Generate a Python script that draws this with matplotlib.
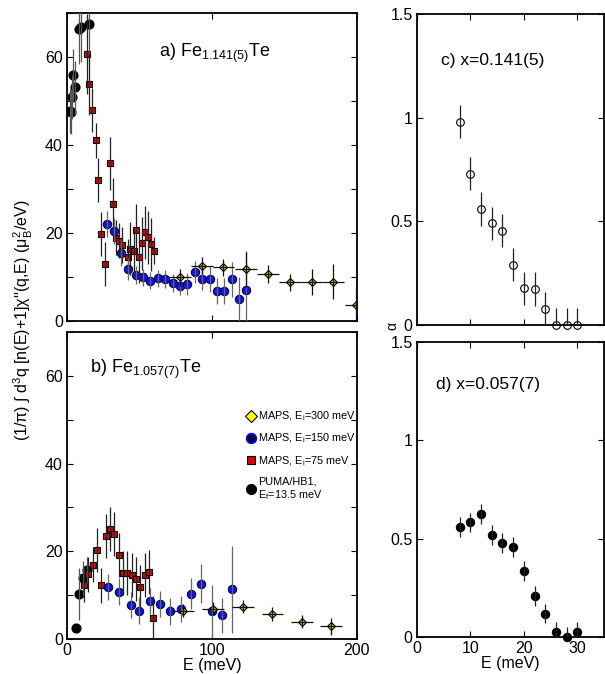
import matplotlib
matplotlib.use("Agg")
import matplotlib.pyplot as plt
from matplotlib.lines import Line2D
from matplotlib.ticker import MultipleLocator
import numpy as np

plt.rcParams['font.family'] = ['Liberation Sans', 'DejaVu Sans']
plt.rcParams['mathtext.fontset'] = 'custom'
plt.rcParams['mathtext.rm'] = 'Liberation Sans'
plt.rcParams['mathtext.it'] = 'Liberation Sans:italic'

# ============================================< DATA >=================================================================

# panel a) Fe1.141(5)Te
a_puma_E = [2.0, 3.0, 3.3, 4.4, 5.6, 8.5, 10.0, 15.5]
a_puma_y = [47.8, 47.5, 50.8, 55.9, 53.1, 66.3, 66.8, 67.5]
a_puma_err = [5, 5, 5, 6, 6, 8, 8, 9]

a_75_E = [13.7, 15.5, 17.6, 19.7, 21.7, 23.8, 25.9, 29.9, 32.0, 34.0, 36.0, 37.7,
          41.9, 43.8, 46.0, 47.9, 49.8, 51.9, 53.9, 56.0, 58.1, 60.2]
a_75_y = [60.7, 53.8, 47.9, 41.1, 32.1, 19.7, 13.0, 35.8, 26.6, 18.9, 18.3, 17.3,
          14.6, 16.4, 16.0, 20.6, 14.6, 17.7, 20.2, 19.0, 17.4, 16.0]
a_75_err = [9, 7, 5, 4, 5, 5, 5, 6, 6, 4, 4, 4, 4, 6, 5, 6, 6, 6, 6, 6, 6, 3]

a_150_E = [27.5, 32.2, 37.3, 42.4, 47.4, 52.5, 57.6, 62.7, 67.8, 72.9,
           78.0, 83.1, 88.2, 93.3, 98.4, 103.5, 108.5, 113.6, 118.8, 123.8]
a_150_y = [22.0, 20.5, 15.5, 11.9, 10.5, 9.9, 9.2, 9.7, 9.6, 8.7,
           8.0, 8.4, 11.1, 9.5, 9.6, 6.8, 6.8, 9.5, 5.0, 7.0]
a_150_err = [3, 3, 3, 2.5, 2, 2, 2, 2, 2, 2,
             2, 2.5, 2.5, 2.5, 3, 3, 3, 4, 5, 9]

a_300_E = [78.0, 93.0, 108.0, 123.6, 138.7, 154.0, 168.8, 183.8, 199.3]
a_300_y = [9.9, 12.6, 12.2, 11.8, 10.7, 8.8, 8.9, 8.9, 3.6]
a_300_err = [2, 2, 2, 4, 2, 2, 3, 4, 4]

# panel b) Fe1.057(7)Te
b_puma_E = [6.2, 8.5, 11.3, 13.6]
b_puma_y = [2.6, 10.3, 13.9, 15.7]
b_puma_err = [0, 6, 4, 3]

b_75_E = [11.7, 14.7, 17.7, 20.7, 23.7, 26.7, 29.7, 32.6, 35.6, 38.8, 41.6,
          44.6, 47.6, 50.6, 53.6, 56.6, 59.5]
b_75_y = [12.4, 14.8, 16.9, 20.2, 12.3, 23.4, 25.0, 24.0, 19.2, 15.0, 15.0,
          14.5, 13.6, 11.9, 14.5, 15.3, 4.8]
b_75_err = [4, 4, 4, 5, 4, 5, 5, 5, 5, 5, 5, 5, 5, 5, 5, 5, 5]

b_150_E = [28.5, 35.6, 44.0, 49.9, 57.2, 64.1, 71.3, 78.4, 85.5, 92.6, 99.8, 107.0, 114.0]
b_150_y = [11.9, 10.8, 7.7, 6.5, 8.6, 8.0, 6.3, 6.9, 10.3, 12.6, 6.3, 5.4, 11.3]
b_150_err = [3, 3, 3, 3, 3, 3, 3, 3, 3.5, 4.5, 6, 4, 10]

b_300_E = [80.2, 101.0, 121.6, 141.8, 162.0, 182.0]
b_300_y = [6.5, 6.9, 7.4, 5.7, 3.9, 2.9]
b_300_err = [1.5, 1.5, 1.5, 1.5, 1.5, 2]

# panels c) and d): alpha vs E
alpha_E = [8, 10, 12, 14, 16, 18, 20, 22, 24, 26, 28, 30]
c_alpha = [0.98, 0.73, 0.56, 0.49, 0.455, 0.29, 0.177, 0.174, 0.077, 0.0, 0.0, 0.0]
c_err = [0.08, 0.08, 0.08, 0.08, 0.08, 0.08, 0.08, 0.08, 0.08, 0.08, 0.08, 0.08]
d_alpha = [0.56, 0.583, 0.625, 0.52, 0.478, 0.458, 0.334, 0.207, 0.119, 0.024, 0.0, 0.025]
d_err = [0.05, 0.05, 0.05, 0.05, 0.05, 0.05, 0.05, 0.05, 0.05, 0.05, 0.05, 0.05]

XERR_300 = 7.5
TICK_FS = 11.5

# ============================================< PLOTTING >=============================================================

fig = plt.figure(figsize=(6.05, 6.74), dpi=100)
ax_a = fig.add_axes([0.1107, 0.5237, 0.479, 0.457])
ax_b = fig.add_axes([0.1107, 0.0519, 0.479, 0.4555])
ax_c = fig.add_axes([0.689, 0.5178, 0.3095, 0.4612])
ax_d = fig.add_axes([0.689, 0.0549, 0.3095, 0.4377])


def series(ax, E, y, err, marker, mfc, mec, ms, ecol, xerr=None, clip=True):
    ax.plot(E, y, linestyle='none', marker=marker, mfc=mfc, mec=mec, ms=ms, mew=0.8, zorder=2,
            clip_on=clip)
    ax.errorbar(E, y, yerr=err, xerr=xerr, fmt='none', ecolor=ecol, elinewidth=0.9, capsize=0, zorder=3)


def left_panel(ax, puma, r75, b150, y300):
    series(ax, *puma, 'o', 'black', 'black', 6.5, '#555555')
    series(ax, *r75, 's', '#e00000', 'black', 4.5, '#222222')
    series(ax, *b150, 'o', '#1414e0', '#000050', 6.0, '#666666')
    series(ax, *y300, 'D', '#d8d000', 'black', 4.5, '#111111', xerr=XERR_300)
    ax.set_xlim(0, 200)
    ax.set_ylim(0, 70)
    ax.set_xticks([0, 100, 200])
    ax.set_yticks([0, 20, 40, 60])
    ax.yaxis.set_minor_locator(MultipleLocator(10))


left_panel(ax_a, (a_puma_E, a_puma_y, a_puma_err), (a_75_E, a_75_y, a_75_err),
           (a_150_E, a_150_y, a_150_err), (a_300_E, a_300_y, a_300_err))
left_panel(ax_b, (b_puma_E, b_puma_y, b_puma_err), (b_75_E, b_75_y, b_75_err),
           (b_150_E, b_150_y, b_150_err), (b_300_E, b_300_y, b_300_err))

series(ax_c, alpha_E, c_alpha, c_err, 'o', 'white', 'black', 5.5, '#222222', clip=False)
series(ax_d, alpha_E, d_alpha, d_err, 'o', 'black', 'black', 6.0, '#222222', clip=False)
for ax in (ax_c, ax_d):
    ax.set_xlim(0, 35)
    ax.set_ylim(0, 1.5)
    ax.set_xticks([0, 10, 20, 30])
    ax.set_yticks([0, 0.5, 1, 1.5])
    ax.set_yticklabels(['0', '0.5', '1', '1.5'])

for ax in (ax_a, ax_b, ax_c, ax_d):
    ax.tick_params(which='both', direction='in', top=True, right=True, labelsize=TICK_FS,
                   length=4, width=0.8, pad=3)
    ax.tick_params(which='minor', length=4)
    for s in ax.spines.values():
        s.set_linewidth(1.3)
ax_a.tick_params(labelbottom=False)
ax_c.tick_params(labelbottom=False)

ax_b.set_xlabel('E (meV)', fontsize=11.5, labelpad=0)
ax_d.set_xlabel('E (meV)', fontsize=11.5, labelpad=0)

ax_a.text(0.317, 0.857, r'a) Fe$_{\mathrm{1.141(5)}}$Te', transform=ax_a.transAxes, fontsize=13)
ax_b.text(0.079, 0.866, r'b) Fe$_{\mathrm{1.057(7)}}$Te', transform=ax_b.transAxes, fontsize=13)
ax_c.text(0.131, 0.836, 'c) x=0.141(5)', transform=ax_c.transAxes, fontsize=12.5)
ax_d.text(0.10, 0.84, 'd) x=0.057(7)', transform=ax_d.transAxes, fontsize=12.5)

fig.text(0.039, 0.525, r"(1/π) ∫ d$^{3}$q [n(E)+1]χ''(q,E) (μ$_{\mathrm{B}}^{2}$/eV)",
         rotation=90, ha='center', va='center', fontsize=11.5)
fig.text(0.648, 0.516, 'α', rotation=90, ha='center', va='center', fontsize=10)

handles = [
    Line2D([], [], linestyle='none', marker='D', mfc='#ffff00', mec='black', ms=6, mew=0.8),
    Line2D([], [], linestyle='none', marker='o', mfc='#000030', mec='#0000ff', ms=7, mew=1.2),
    Line2D([], [], linestyle='none', marker='s', mfc='#e00000', mec='black', ms=5.5, mew=0.8),
    Line2D([], [], linestyle='none', marker='o', mfc='black', mec='black', ms=7),
]
labels = [r'MAPS, E$_\mathrm{i}$=300 meV', r'MAPS, E$_\mathrm{i}$=150 meV',
          r'MAPS, E$_\mathrm{i}$=75 meV', 'PUMA/HB1,\n' + r'E$_\mathrm{f}$=13.5 meV']
ax_b.legend(handles, labels, loc='upper left', bbox_to_anchor=(0.6, 0.765), frameon=False,
            fontsize=7.8, handlelength=0.8, handletextpad=0.25, labelspacing=0.8, borderpad=0)

fig.savefig('out.png', dpi=100)
